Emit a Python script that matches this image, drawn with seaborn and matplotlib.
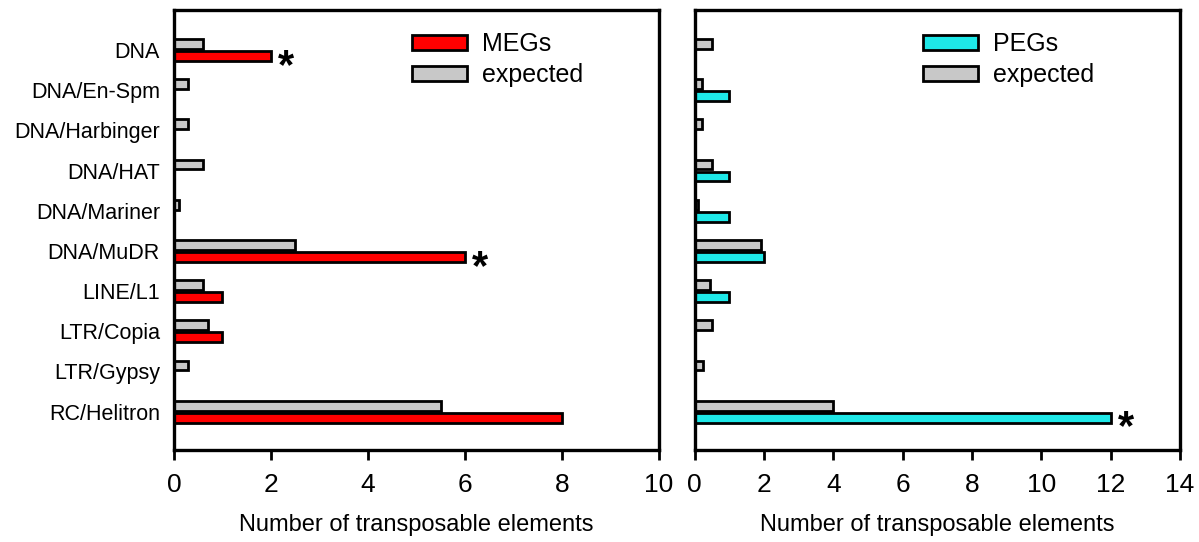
import pandas as pd
import matplotlib
matplotlib.use("Agg")
import matplotlib.pyplot as plt
import seaborn as sns
from matplotlib.patches import Patch

sns.set_theme(style="white")
plt.rcParams["font.family"] = ["Liberation Sans", "DejaVu Sans"]
plt.rcParams.update({"text.color": "black", "axes.labelcolor": "black",
                     "xtick.color": "black", "ytick.color": "black"})

categories = ["DNA", "DNA/En-Spm", "DNA/Harbinger", "DNA/HAT", "DNA/Mariner",
              "DNA/MuDR", "LINE/L1", "LTR/Copia", "LTR/Gypsy", "RC/Helitron"]

meg_observed = [2, 0, 0, 0, 0, 6, 1, 1, 0, 8]
meg_expected = [0.6, 0.3, 0.3, 0.6, 0.1, 2.5, 0.6, 0.7, 0.3, 5.5]
peg_observed = [0, 1, 0, 1, 1, 2, 1, 0, 0, 12]
peg_expected = [0.5, 0.2, 0.2, 0.5, 0.1, 1.9, 0.45, 0.5, 0.25, 4.0]

meg_stars = ["DNA", "DNA/MuDR"]
peg_stars = ["RC/Helitron"]

RED = "#ff0000"
CYAN = "#1ee8e8"
GRAY = "#c8c8c8"


def make_frame(observed, expected, name):
    obs = pd.DataFrame({"category": categories, "value": observed, "group": name})
    exp = pd.DataFrame({"category": categories, "value": expected, "group": "expected"})
    return pd.concat([exp, obs], ignore_index=True)


def draw_panel(ax, observed, expected, name, color, xmax, stars):
    df = make_frame(observed, expected, name)
    sns.barplot(data=df, y="category", x="value", hue="group", orient="h",
                order=categories, hue_order=["expected", name],
                palette={"expected": GRAY, name: color}, saturation=1,
                width=0.6, gap=0.18, edgecolor="black", linewidth=2,
                ax=ax, legend=False)
    ax.set_xlim(0, xmax)
    ax.set_ylim(9.95, -1)
    ax.set_xticks(range(0, xmax + 1, 2))
    ax.set_xlabel("Number of transposable elements", fontsize=17, labelpad=12)
    ax.set_ylabel("")
    ax.tick_params(axis="x", direction="out", length=7, width=2,
                   labelsize=19, pad=10, bottom=True)
    ax.tick_params(axis="y", length=0, labelsize=15.5, pad=10)
    for s in ax.spines.values():
        s.set_linewidth(2.4)
        s.set_color("black")
    for cat in stars:
        i = categories.index(cat)
        ax.text(observed[i] + xmax * 0.032, i + 0.42, "*", fontsize=30,
                fontweight="bold", ha="center", va="center", color="black")
    handles = [Patch(facecolor=color, edgecolor="black", linewidth=2, label=name),
               Patch(facecolor=GRAY, edgecolor="black", linewidth=2, label="expected")]
    ax.legend(handles=handles, loc="upper right", bbox_to_anchor=(0.89, 1.0),
              frameon=False, fontsize=18, handlelength=2.2, handleheight=0.5,
              labelspacing=0.28, handletextpad=0.6)


fig, (ax1, ax2) = plt.subplots(1, 2, figsize=(11.99, 5.42), dpi=100)
draw_panel(ax1, meg_observed, meg_expected, "MEGs", RED, 10, meg_stars)
draw_panel(ax2, peg_observed, peg_expected, "PEGs", CYAN, 14, peg_stars)
ax2.set_yticklabels([])
ax2.legend_.set_bbox_to_anchor((0.87, 1.0))

fig.subplots_adjust(left=0.145, right=0.984, top=0.982, bottom=0.17, wspace=0.074)
fig.savefig("out.png", dpi=100, facecolor="white")
